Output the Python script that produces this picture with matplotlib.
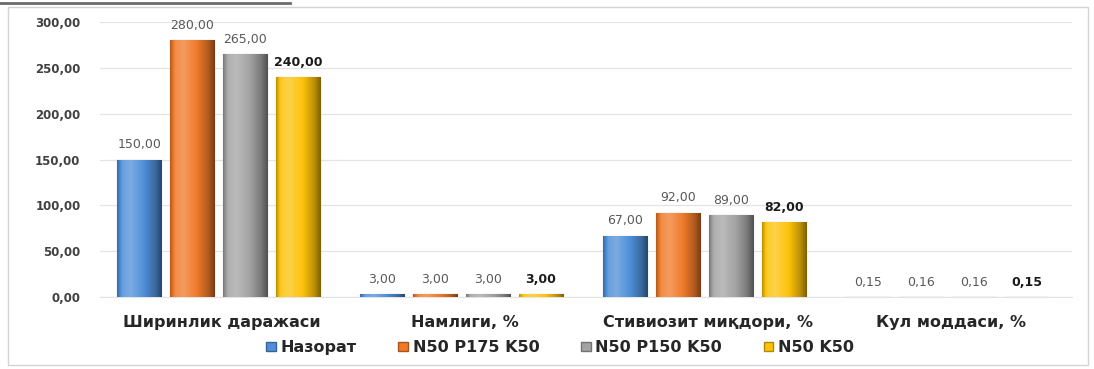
import matplotlib
matplotlib.use("Agg")
import matplotlib.pyplot as plt
import numpy as np
from matplotlib.colors import to_rgb
from matplotlib.lines import Line2D
from matplotlib.patches import Rectangle

categories = ["Ширинлик даражаси", "Намлиги, %", "Стивиозит миқдори, %", "Кул моддаси, %"]
series_names = ["Назорат", "N50 P175 K50", "N50 P150 K50", "N50 K50"]
nazorat = [150.00, 3.00, 67.00, 0.15]
n50p175k50 = [280.00, 3.00, 92.00, 0.16]
n50p150k50 = [265.00, 3.00, 89.00, 0.16]
n50k50 = [240.00, 3.00, 82.00, 0.15]
yticks = [0, 50, 100, 150, 200, 250, 300]

series = [nazorat, n50p175k50, n50p150k50, n50k50]
colors = ["#4f8fd8", "#f07a2a", "#a3a3a3", "#fcc20a"]

fig = plt.figure(figsize=(10.94, 3.69), dpi=100)
ax = fig.add_axes([0.0914, 0.195, 0.8885, 0.745])

x = np.arange(len(categories))
step = 0.218
width = 0.182

def shade(c, f):
    r = np.array(to_rgb(c))
    if f >= 0:
        return r + (1 - r) * f
    return r * (1 + f)

for i, (vals, col) in enumerate(zip(series, colors)):
    pos = x + (i - 1.5) * step - 0.012
    bars = ax.bar(pos, vals, width, color=col, edgecolor=shade(col, -0.45), linewidth=0.8, zorder=3)
    # cylinder-like gradient
    t = np.linspace(0, 1, 64)
    prof = np.interp(t, [0, 0.12, 0.3, 0.6, 0.85, 1.0], [-0.25, 0.15, 0.25, 0.0, -0.25, -0.5])
    grad = np.array([shade(col, f) for f in prof])[None, :, :]
    for b in bars:
        bx, by = b.get_x(), b.get_y()
        bw, bh = b.get_width(), b.get_height()
        im = ax.imshow(grad, extent=[bx, bx + bw, by, by + bh], aspect="auto",
                       zorder=3.5, interpolation="bilinear")
        im.set_clip_path(b)
    for p, v in zip(pos, vals):
        lab = f"{v:.2f}".replace(".", ",")
        bold = (i == 3)
        ax.annotate(lab, (p, v), xytext=(0, 6), textcoords="offset points",
                    ha="center", va="bottom", fontsize=9,
                    color="#1a1a1a" if bold else "#595959",
                    fontweight="bold" if bold else "normal", zorder=5)

ax.set_xlim(-0.5, len(categories) - 0.5)
ax.set_ylim(0, 300)
ax.set_yticks(yticks)
ax.set_yticklabels([f"{v:.2f}".replace(".", ",") for v in yticks],
                   fontsize=8.5, fontweight="bold", color="#404040")
ax.set_xticks(x)
ax.set_xticklabels(categories, fontsize=11.5, fontweight="bold", color="#262626")
ax.tick_params(axis="y", length=0, pad=14)
ax.tick_params(axis="x", length=0, pad=13)
ax.grid(axis="y", color="#e3e3e3", linewidth=0.9, zorder=0)
for s in ["top", "right", "left"]:
    ax.spines[s].set_visible(False)
ax.spines["bottom"].set_color("#e3e3e3")

handles = [Rectangle((0, 0), 1, 1, facecolor=c, edgecolor=shade(c, -0.3)) for c in colors]
fig.legend(handles, series_names, loc="center", bbox_to_anchor=(0.512, 0.057), ncol=4,
           frameon=False, handlelength=0.6, handleheight=0.5, handletextpad=0.3,
           columnspacing=2.6, prop={"weight": "bold", "size": 11.5}, labelcolor="#262626")

# chart frame
fig.add_artist(Rectangle((8 / 1094, 4 / 369), 1080 / 1094, 358 / 369, transform=fig.transFigure,
                         fill=False, edgecolor="#d4d4d4", linewidth=1.0))
fig.add_artist(Line2D([0, 290 / 1094], [1 - 3 / 369, 1 - 3 / 369], transform=fig.transFigure,
                      color="#6b6b6b", linewidth=2))

fig.savefig("out.png", dpi=100, facecolor="white")
